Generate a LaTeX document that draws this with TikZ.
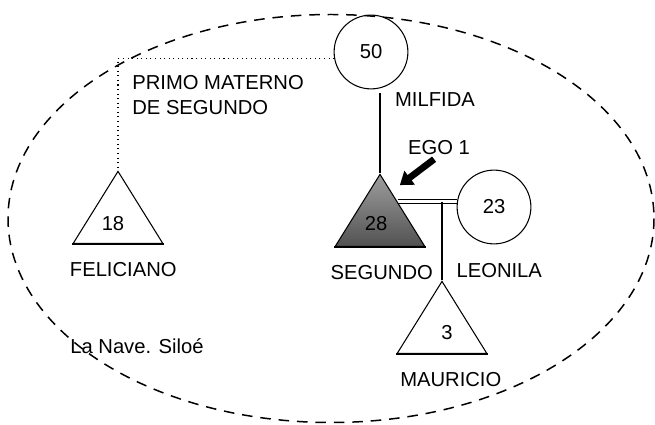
\documentclass[tikz,border=0pt]{standalone}
\usepackage{fontspec}
\setmainfont{Liberation Sans}
\usepackage{tikz}
\usetikzlibrary{shapes.geometric, arrows.meta, positioning, calc}
\tikzstyle{woman} = [circle, draw=black, line width=0.6pt, minimum size=42pt, inner sep=0pt]
\tikzstyle{man} = [isosceles triangle, isosceles triangle stretches, shape border rotate=90, minimum width=51pt, minimum height=41pt, inner sep=0pt, draw=black, line width=0.6pt]
\tikzstyle{ego} = [man, top color=black!38, bottom color=black!68]
\tikzstyle{base} = [line width=1.2pt]
\tikzstyle{kin} = [line width=0.6pt]
\tikzstyle{marriage} = [line width=0.5pt]
\tikzstyle{cousin} = [line width=0.6pt, dotted]
\tikzstyle{ring} = [line width=0.85pt, dash pattern=on 6pt off 4.5pt]
\tikzstyle{egoarrow} = [line width=3.8pt, -{Triangle[length=7pt, width=9.5pt]}]
\tikzstyle{tag} = [inner sep=0pt]

\begin{document}
\begin{tikzpicture}[x=0.02cm, y=-0.02cm, node distance=10.5pt, font=\fontsize{11.5}{14.2}\selectfont]
    \useasboundingbox (0,0) rectangle (655,425);
    % household ring
    \draw[ring] (331,218.5) ellipse [x radius=323, y radius=204];

    \node (mil) [woman] at (371,52) {50};
    \node (leo) [woman] at (494,207) {23};
    \node (fel) [man, anchor=apex] at (118,170) {};
    \node (seg) [ego, anchor=apex] at (380,173) {};
    \node (mau) [man, anchor=apex] at (442,280) {};
    \foreach \t in {fel,seg,mau}
        \draw[base] (\t.left corner) -- (\t.right corner);

    \node (felage) [tag] at ($(fel.apex)+(-5,54)$) {18};
    \node (segage) [tag] at ($(seg.apex)+(-4,51)$) {28};
    \node (mauage) [tag] at ($(mau.apex)+(5,53)$) {3};

    \node (milname) [tag] at (435,100) {MILFIDA};
    \node (felname) [tag, below=of fel, xshift=3pt] {FELICIANO};
    \node (segname) [tag, below=of seg, xshift=1pt] {SEGUNDO};
    \node (leoname) [tag, below=of leo, xshift=3pt] {LEONILA};
    \node (mauname) [tag, below=of mau, xshift=5pt] {MAURICIO};
    \node (egoname) [tag] at (439,148) {EGO 1};
    \node (primo) [tag, anchor=west, align=left] at (132,95.5) {PRIMO MATERNO\\DE SEGUNDO};
    \node (place) [tag] at (137,346) {La Nave. Siloé};

    \coordinate (wed) at ($(seg.apex)!0.386!(seg.right corner)$);
    \coordinate (wedend) at (leo.170 |- wed);
    \draw [kin, shorten <=2.3pt] (seg.apex |- mil.south) -- (seg.apex);
    \draw [cousin] (mil.190) -| (fel.apex);
    \foreach \o in {-1pt,1pt}
        \draw [marriage] ([yshift=\o]wed) -- ([yshift=\o]wedend);
    \draw [kin] (mau.apex |- wed) -- (mau.apex);
    \draw [egoarrow, shorten <=3.5pt, shorten >=6pt] (egoname.south) -- ($(seg.apex)!0.25!(seg.right corner)$);
\end{tikzpicture}
\end{document}
